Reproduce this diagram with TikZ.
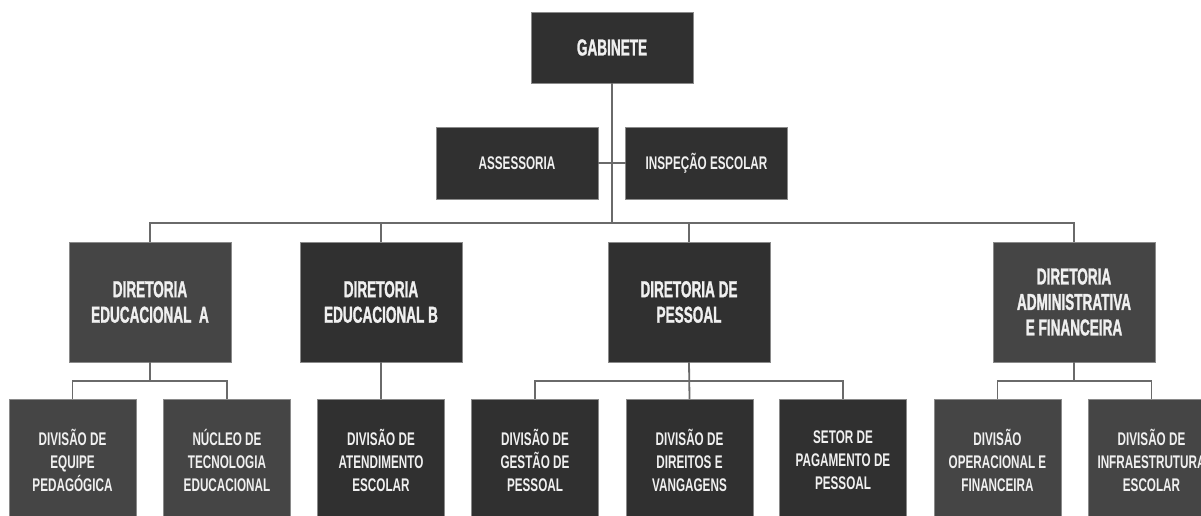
\documentclass[tikz,border=0pt]{standalone}
\usepackage{fontspec}
\newfontfamily\condR{Liberation Sans}[FakeStretch=0.64]
\newfontfamily\condB{Liberation Sans}[FakeStretch=0.59, BoldFeatures={FakeBold=1.2}]
\definecolor{boxdark}{HTML}{303030}
\definecolor{boxlight}{HTML}{454545}
\definecolor{boxedge}{HTML}{8A8A8A}
\definecolor{linec}{HTML}{6A6A6A}
\definecolor{txt}{HTML}{F0F0F0}
\tikzset{
  basebox/.style={rectangle, draw=boxedge, line width=0.7pt, inner sep=2pt, outer sep=0pt, text=txt, align=center},
  topbox/.style={basebox, fill=boxdark, minimum width=162pt, minimum height=71pt, font=\condB\bfseries\fontsize{23}{25.5}\selectfont},
  sidebox/.style={basebox, fill=boxdark, minimum width=162pt, minimum height=72pt, font=\condR\bfseries\fontsize{18.3}{23}\selectfont},
  dirbox/.style={basebox, minimum width=162pt, minimum height=120pt, font=\condB\bfseries\fontsize{23}{25.5}\selectfont},
  subbox/.style={basebox, minimum width=127pt, minimum height=122pt, font=\condR\bfseries\fontsize{18.3}{23}\selectfont},
  conn/.style={draw=linec, line width=1.8pt}
}
\begin{document}
\begin{tikzpicture}[x=1pt, y=-1pt]
\useasboundingbox (0,0) rectangle (1201,516);
\clip (0,0) rectangle (1201,516);
\fill[white] (0,0) rectangle (1201,516);

\coordinate (busmid) at (612,223);

% top level
\node[topbox] (gab) at (612,47.5) {GABINETE};
\node[sidebox] (ass) at (517,163) {ASSESSORIA};
\node[sidebox] (insp) at (706.5,163) {INSPEÇÃO ESCOLAR};

% directorates
\node[dirbox, fill=boxlight] (dirA) at (150,302) {DIRETORIA\\EDUCACIONAL\ \ A};
\node[dirbox, fill=boxdark] (dirB) at (381,302) {DIRETORIA\\EDUCACIONAL B};
\node[dirbox, fill=boxdark] (dirP) at (689,302) {DIRETORIA DE\\PESSOAL};
\node[dirbox, fill=boxlight] (dirF) at (1074,302) {DIRETORIA\\ADMINISTRATIVA\\E FINANCEIRA};

% divisions
\node[subbox, fill=boxlight] (equipe) at (72.5,460) {DIVISÃO DE\\EQUIPE\\PEDAGÓGICA};
\node[subbox, fill=boxlight] (nucleo) at (227,460) {NÚCLEO DE\\TECNOLOGIA\\EDUCACIONAL};
\node[subbox, fill=boxdark] (atend) at (381,460) {DIVISÃO DE\\ATENDIMENTO\\ESCOLAR};
\node[subbox, fill=boxdark] (gestao) at (535,460) {DIVISÃO DE\\GESTÃO DE\\PESSOAL};
\node[subbox, fill=boxdark] (direitos) at (689.5,460) {DIVISÃO DE\\DIREITOS E\\VANGAGENS};
\node[subbox, fill=boxdark] (setor) at (843,460) {SETOR DE\\PAGAMENTO DE\\PESSOAL};
\node[subbox, fill=boxlight] (oper) at (997.5,460) {DIVISÃO\\OPERACIONAL E\\FINANCEIRA};
\node[subbox, fill=boxlight] (infra) at (1151.5,460) {DIVISÃO DE\\INFRAESTRUTURA\\ESCOLAR};

\coordinate (sA) at ([yshift=-19pt]dirA.south);
\coordinate (sP) at ([yshift=-19pt]dirP.south);
\coordinate (sF) at ([yshift=-19pt]dirF.south);

% lines
\draw[conn] (gab.south) -- (busmid);
\draw[conn] (ass.east) -- (insp.west);
\draw[conn] (dirA.north) |- (busmid) -| (dirF.north);
\draw[conn] (dirB.north) -- (dirB.north |- busmid);
\draw[conn] (dirP.north) -- (dirP.north |- busmid);
\draw[conn] (dirA.south) -- (sA);
\draw[conn] (equipe.north) |- (sA) -| (nucleo.north);
\draw[conn] (dirB.south) -- (atend.north);
\draw[conn] (dirP.south) -- (direitos.north);
\draw[conn] (gestao.north) |- (sP) -| (setor.north);
\draw[conn] (dirF.south) -- (sF);
\draw[conn] (oper.north) |- (sF) -| (infra.north);
\end{tikzpicture}
\end{document}
